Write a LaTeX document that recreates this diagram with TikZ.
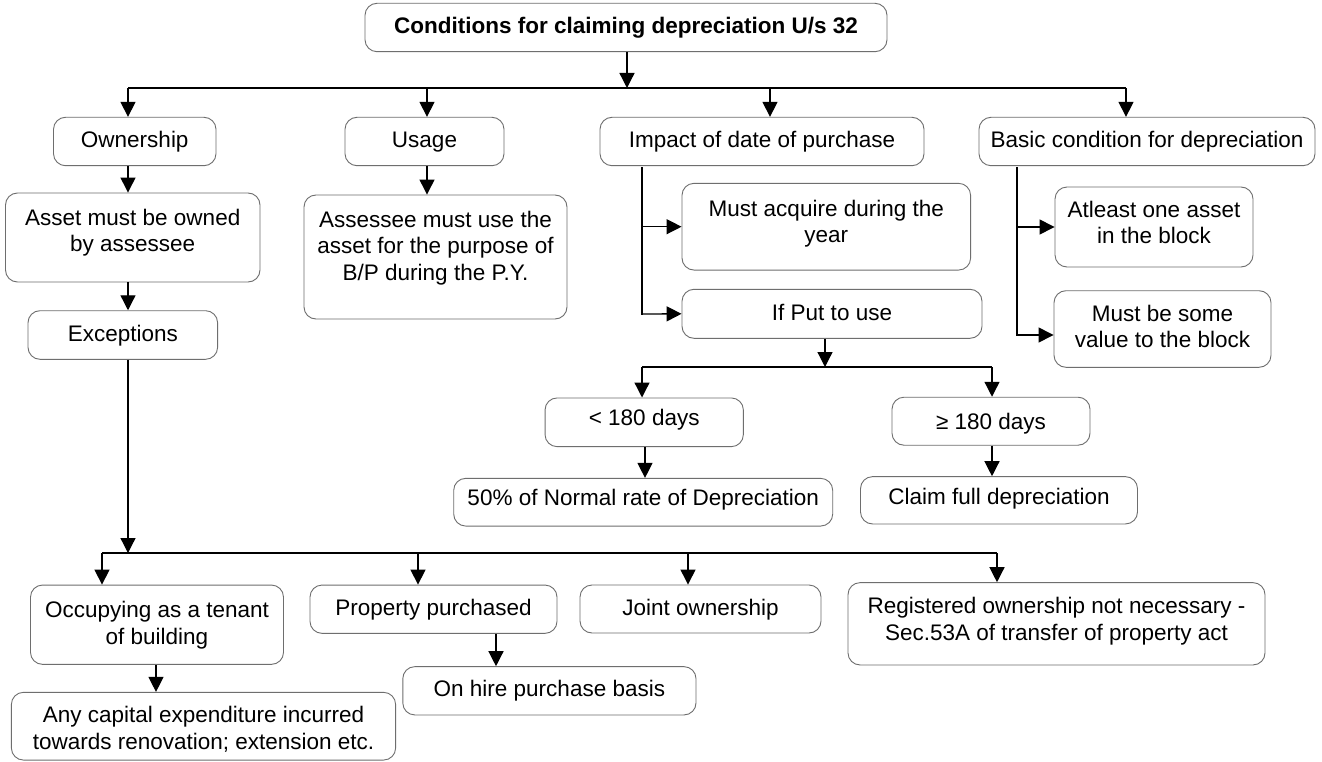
\documentclass[tikz,border=0pt]{standalone}
\usepackage{fontspec}
\setmainfont{Liberation Sans}
\usetikzlibrary{arrows.meta}
\definecolor{boxgray}{RGB}{110,110,110}
\newcommand{\fsz}{\fontsize{22.5}{26.5}\selectfont}
\newcommand{\bl}[2][-7pt]{\raisebox{#1}[0pt][0pt]{\begin{tabular}[c]{@{}c@{}}#2\end{tabular}}}
\begin{document}
\begin{tikzpicture}[x=1pt,y=-1pt,
  box/.style={draw=boxgray, line width=0.9pt, rounded corners=12pt, inner sep=0pt, font=\fsz},
  arr/.style={-{Triangle[length=15pt,width=15pt]}, line width=1.3pt},
  bus/.style={line width=2.3pt}]
\useasboundingbox (0,0) rectangle (1322,762);
\fill[white] (0,0) rectangle (1322,762);

% nodes
\node[box, minimum width=522pt, minimum height=48.4pt] (title) at (626,27.5) {\bl[-5.5pt]{\textbf{Conditions for claiming depreciation U/s 32}}};
\node[box, minimum width=162.5pt, minimum height=48.4pt] (own) at (134.75,141.5) {\bl[-6pt]{Ownership}};
\node[box, minimum width=159pt, minimum height=48.4pt] (use) at (424.5,141.5) {\bl[-6pt]{Usage}};
\node[box, minimum width=324pt, minimum height=48.4pt] (imp) at (762,141.5) {\bl[-6pt]{Impact of date of purchase}};
\node[box, minimum width=336pt, minimum height=48.4pt] (bas) at (1147,141.5) {\bl[-6pt]{Basic condition for depreciation}};
\node[box, minimum width=254.5pt, minimum height=89pt] (asset) at (132.75,237.5) {\bl[-1pt]{Asset must be owned\\by assessee}};
\node[box, minimum width=263pt, minimum height=124pt] (assess) at (435.5,257) {\bl[3.5pt]{Assessee must use the\\asset for the purpose of\\B/P during the P.Y.}};
\node[box, minimum width=189.6pt, minimum height=48.6pt] (exc) at (122.8,335) {\bl[-6pt]{Exceptions}};
\node[box, minimum width=288.6pt, minimum height=86.7pt] (acq) at (826.3,226.7) {\bl[-2.9pt]{Must acquire during the\\year}};
\node[box, minimum width=300pt, minimum height=49pt] (put) at (832,313.8) {\bl{If Put to use}};
\node[box, minimum width=198pt, minimum height=80pt] (atl) at (1154,227) {\bl[-3.5pt]{Atleast one asset\\in the block}};
\node[box, minimum width=217pt, minimum height=76.6pt] (some) at (1162.5,329) {\bl[-5.2pt]{Must be some\\value to the block}};
\node[box, minimum width=198.3pt, minimum height=48.7pt] (lt) at (644.2,422.3) {\bl[-3pt]{< 180 days}};
\node[box, minimum width=198pt, minimum height=48pt] (ge) at (991,421.2) {\bl[-8.3pt]{≥ 180 days}};
\node[box, minimum width=379pt, minimum height=47.7pt] (half) at (643.2,502.2) {\bl[-3.3pt]{50\% of Normal rate of Depreciation}};
\node[box, minimum width=277pt, minimum height=47.3pt] (claim) at (999,500.3) {\bl[-4pt]{Claim full depreciation}};
\node[box, minimum width=253pt, minimum height=79.3pt] (occ) at (157,624.7) {\bl[-6pt]{Occupying as a tenant\\of building}};
\node[box, minimum width=247pt, minimum height=48.3pt] (prop) at (433.5,609.2) {\bl[-6pt]{Property purchased}};
\node[box, minimum width=241pt, minimum height=48pt] (joint) at (700.5,609) {\bl[-6pt]{Joint ownership}};
\node[box, minimum width=417pt, minimum height=82.3pt] (reg) at (1056.5,623.8) {\bl[-2.9pt]{Registered ownership not necessary -\\Sec.53A of transfer of property act}};
\node[box, minimum width=384.2pt, minimum height=67.7pt] (any) at (203.5,726.2) {\bl[-9.5pt]{Any capital expenditure incurred\\towards renovation; extension etc.}};
\node[box, minimum width=293.2pt, minimum height=48.3pt] (hire) at (549.4,690.8) {\bl[-6pt]{On hire purchase basis}};

% top bus
\coordinate (t1) at (627,88);
\coordinate (busL) at (128,88);
\coordinate (busR) at (1126,88);
\coordinate (bU) at (427,88);
\coordinate (bI) at (770,88);
\draw[bus] (busL) -- (busR);
\draw[arr] (title.south -| t1) -- (t1);
\draw[arr] (busL) -- (busL |- own.north);
\draw[arr] (bU) -- (bU |- use.north);
\draw[arr] (bI) -- (bI |- imp.north);
\draw[arr] (busR) -- (busR |- bas.north);

% ownership chain
\draw[arr] (own.south -| busL) -- (asset.north -| busL);
\draw[arr] (use.south -| bU) -- (assess.north -| bU);
\draw[arr] (asset.south -| busL) -- (exc.north -| busL);

% exceptions bus
\coordinate (lb) at (128,553);
\coordinate (lbL) at (102,553);
\coordinate (lbR) at (997,553);
\coordinate (l2) at (418,553);
\coordinate (l3) at (688,553);
\draw[arr] (exc.south -| lb) -- (lb);
\draw[bus] (lbL) -- (lbR);
\draw[arr] (lbL) -- (lbL |- occ.north);
\draw[arr] (l2) -- (l2 |- prop.north);
\draw[arr] (l3) -- (l3 |- joint.north);
\draw[arr] (lbR) -- (lbR |- reg.north);
\coordinate (xo) at (156,0);
\coordinate (xp) at (496,0);
\draw[arr] (occ.south -| xo) -- (any.north -| xo);
\draw[arr] (prop.south -| xp) -- (hire.north -| xp);

% impact of date
\coordinate (iL) at (642,314);
\draw[bus, line cap=rect] (imp.south -| iL) ++(0,2) -- (iL);
\draw[arr] (iL |- acq.west) -- (acq.west);
\draw[arr] (iL) -- (put.west);

% basic condition
\coordinate (bL2) at (1017,335);
\draw[bus, line cap=rect] (bas.south -| bL2) ++(0,2) -- (bL2);
\draw[arr] (bL2 |- atl.west) -- (atl.west);
\draw[arr] (bL2) -- (bL2 -| some.west);

% put to use
\coordinate (sb) at (825,367);
\coordinate (sbL) at (642,367);
\coordinate (sbR) at (992,367);
\coordinate (xl) at (645,0);
\draw[arr] (put.south -| sb) -- (sb);
\draw[bus] (sbL) -- (sbR);
\draw[arr] (sbL) -- (sbL |- lt.north);
\draw[arr] (sbR) -- (sbR |- ge.north);
\draw[arr] (lt.south -| xl) -- (half.north -| xl);
\draw[arr] (ge.south -| sbR) -- (claim.north -| sbR);
\end{tikzpicture}
\end{document}
